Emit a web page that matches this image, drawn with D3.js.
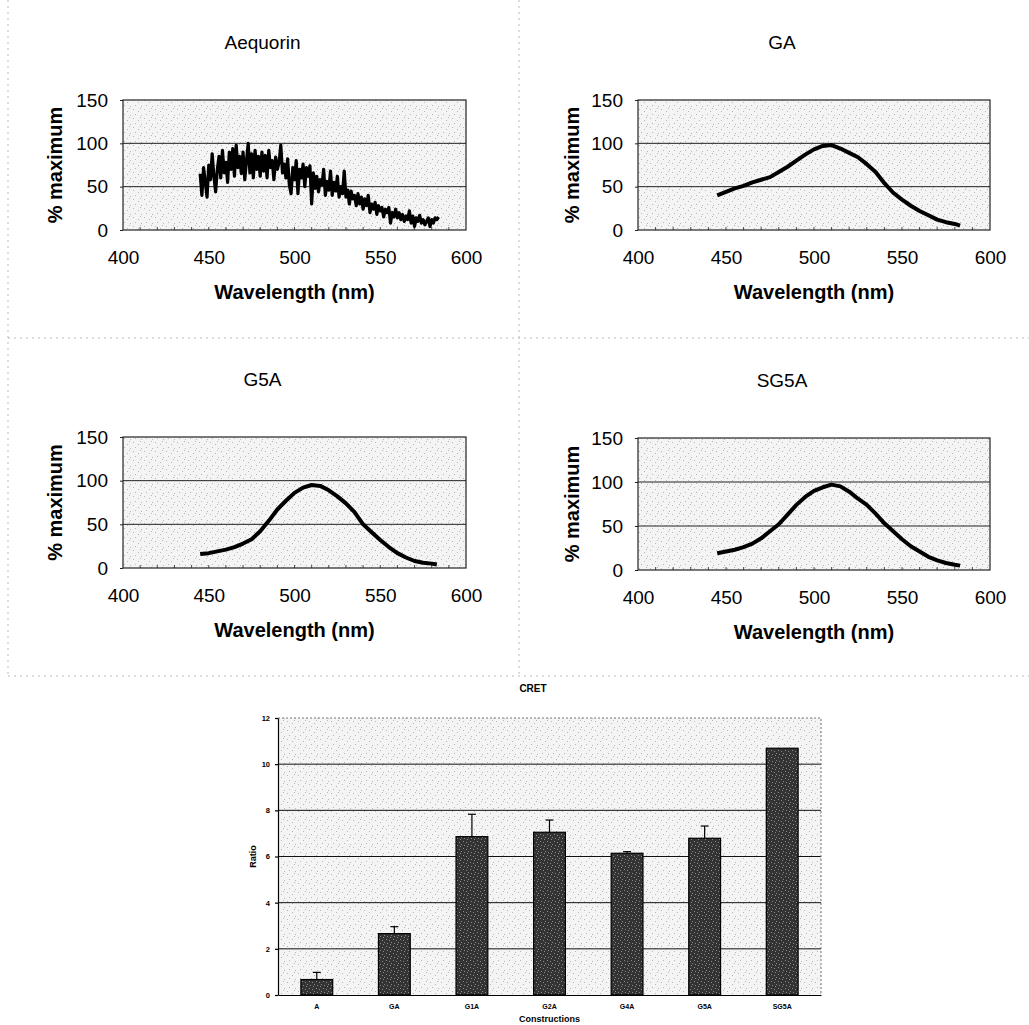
<!DOCTYPE html>
<html><head><meta charset="utf-8">
<script src="https://cdn.jsdelivr.net/npm/d3@7"></script>
<style>body{margin:0;background:#fff}svg{display:block;font-family:"Liberation Sans",Arial,sans-serif}</style>
</head><body>
<script>
// ---------- DATA ----------
const spectrumTitles = ["Aequorin", "GA", "G5A", "SG5A"];
const xTicks = [400, 450, 500, 550, 600];
const yTicks = [0, 50, 100, 150];

// Aequorin (noisy), 1 nm steps from 445 nm
const aequorinStart = 445;
const aequorinValues = [65,40,72,55,38,75,58,88,62,44,70,85,60,92,66,78,55,90,70,94,62,98,72,85,65,90,58,80,100,66,
  88,60,92,70,85,62,90,68,86,60,92,72,80,58,84,70,78,98,66,76,60,82,52,42,72,58,80,42,70,60,
  76,50,72,62,74,30,66,48,62,44,58,52,70,40,56,46,68,40,55,45,62,38,50,42,68,38,46,30,45,36,
  40,28,42,30,38,24,36,28,40,20,30,24,32,18,28,22,26,15,24,20,26,8,20,15,24,14,20,12,18,10,
  16,12,22,8,16,4,14,10,17,8,12,6,10,14,4,12,8,14,12,15];

const curveWavelengths = [445,450,455,460,465,470,475,480,485,490,495,500,505,510,515,520,525,530,535,540,545,550,555,560,565,570,575,580,583];
const gaValues   = [40,44,48,51,55,58,61,67,73,80,87,93,97,98,94,89,84,76,67,54,43,35,28,22,17,12,9,7,5];
const g5aValues  = [16,17,19,21,24,28,33,42,54,67,77,86,92,95,94,89,82,74,64,50,41,32,24,17,12,8,6,5,4];
const sg5aValues = [19,21,23,26,30,36,44,52,63,74,83,90,94,97,95,89,81,74,64,53,44,35,27,21,15,11,8,6,5];

// CRET bar chart
const constructions = ["A","GA","G1A","G2A","G4A","G5A","SG5A"];
const ratioValues   = [0.67, 2.66, 6.86, 7.05, 6.14, 6.79, 10.69];
const ratioErrTops  = [0.98, 2.96, 7.83, 7.58, 6.21, 7.32, 10.69];
const ratioTicks    = [0, 2, 4, 6, 8, 10, 12];

// ---------- DRAW ----------
const W = 1029, H = 1025;
const svg = d3.select("body").append("svg").attr("width", W).attr("height", H);

// speckle patterns (texture only)
const defs = svg.append("defs");
const sp = defs.append("pattern").attr("id","speckle").attr("patternUnits","userSpaceOnUse").attr("width",11).attr("height",9);
sp.append("rect").attr("width",11).attr("height",9).attr("fill","#f4f4f4");
[[1,1],[6,3],[3,6],[9,7],[8,0]].forEach(([a,b])=>sp.append("rect").attr("x",a).attr("y",b).attr("width",1).attr("height",1).attr("fill","#b8b8b8"));
const bp = defs.append("pattern").attr("id","barspeckle").attr("patternUnits","userSpaceOnUse").attr("width",7).attr("height",7);
bp.append("rect").attr("width",7).attr("height",7).attr("fill","#333");
[[1,1],[4,2],[2,5],[6,4],[5,6]].forEach(([a,b])=>bp.append("rect").attr("x",a).attr("y",b).attr("width",1).attr("height",1).attr("fill","#8a8a8a"));

// faint scan divider lines
const div = svg.append("g").attr("stroke","#aaa").attr("stroke-width",0.8).attr("stroke-dasharray","2,4");
div.append("line").attr("x1",8).attr("x2",8).attr("y1",0).attr("y2",676);
div.append("line").attr("x1",519).attr("x2",519).attr("y1",0).attr("y2",676);
div.append("line").attr("x1",8).attr("x2",1029).attr("y1",338).attr("y2",338);
div.append("line").attr("x1",8).attr("x2",1029).attr("y1",676).attr("y2",676);

const spectra = [
  aequorinValues.map((v,i)=>({x: aequorinStart + i, y: v})),
  curveWavelengths.map((w,i)=>({x:w, y:gaValues[i]})),
  curveWavelengths.map((w,i)=>({x:w, y:g5aValues[i]})),
  curveWavelengths.map((w,i)=>({x:w, y:sg5aValues[i]}))
];
const boxes = [
  {x0:123, x1:466, y0:100, y1:230, ylab:55,  lw:3.2},
  {x0:638, x1:990, y0:100, y1:230, ylab:572, lw:4},
  {x0:123, x1:466, y0:437, y1:568, ylab:55,  lw:4},
  {x0:638, x1:990, y0:438, y1:570, ylab:572, lw:4}
];

boxes.forEach((b, k) => {
  const g = svg.append("g");
  const x = d3.scaleLinear().domain([400, 600]).range([b.x0, b.x1]);
  const y = d3.scaleLinear().domain([0, 150]).range([b.y1, b.y0]);
  g.append("rect").attr("x",b.x0).attr("y",b.y0).attr("width",b.x1-b.x0).attr("height",b.y1-b.y0)
    .attr("fill","url(#speckle)");
  g.selectAll(".grid").data([50,100]).join("line")
    .attr("x1",b.x0).attr("x2",b.x1).attr("y1",d=>y(d)).attr("y2",d=>y(d))
    .attr("stroke","#222").attr("stroke-width",1);
  g.selectAll(".mt").data(d3.range(410,600,10)).join("line")
    .attr("x1",d=>x(d)).attr("x2",d=>x(d)).attr("y1",b.y1).attr("y2",b.y1-3)
    .attr("stroke","#222").attr("stroke-width",0.8);
  g.append("rect").attr("x",b.x0).attr("y",b.y0).attr("width",b.x1-b.x0).attr("height",b.y1-b.y0)
    .attr("fill","none").attr("stroke","#222").attr("stroke-width",1.2);
  const ax = g.append("g").attr("transform",`translate(0,${b.y1})`)
    .call(d3.axisBottom(x).tickValues(xTicks).tickSize(0).tickPadding(21));
  ax.select(".domain").remove();
  ax.selectAll("text").attr("font-size",19).attr("fill","#000").attr("font-family","Liberation Sans, Arial, sans-serif");
  const ay = g.append("g").attr("transform",`translate(${b.x0},0)`)
    .call(d3.axisLeft(y).tickValues(yTicks).tickSizeInner(3).tickSizeOuter(0).tickPadding(12));
  ay.select(".domain").remove();
  ay.selectAll("line").attr("stroke","#222");
  ay.selectAll("text").attr("font-size",19).attr("fill","#000").attr("font-family","Liberation Sans, Arial, sans-serif");
  g.append("path").datum(spectra[k])
    .attr("d", d3.line().x(d=>x(d.x)).y(d=>y(d.y)))
    .attr("fill","none").attr("stroke","#000").attr("stroke-width",b.lw).attr("stroke-linejoin","round");
  const mid = (b.x0+b.x1)/2;
  g.append("text").attr("x",mid-32).attr("y",b.y0-51).attr("text-anchor","middle")
    .attr("font-size",19).text(spectrumTitles[k]);
  g.append("text").attr("x",mid).attr("y",b.y1+69).attr("text-anchor","middle")
    .attr("font-size",20).attr("font-weight","bold").text("Wavelength (nm)");
  g.append("text").attr("transform",`translate(${b.ylab + 7},${(b.y0+b.y1)/2}) rotate(-90)`)
    .attr("text-anchor","middle").attr("font-size",20).attr("font-weight","bold").text("% maximum");
});

// ---------- CRET bar chart ----------
const bc = {x0:278, x1:821, y0:718, y1:995};
const bx = d3.scaleBand().domain(constructions).range([bc.x0, bc.x1]).paddingInner(0.59).paddingOuter(0.295);
const by = d3.scaleLinear().domain([0, 12]).range([bc.y1, bc.y0]);
const gb = svg.append("g");
gb.append("rect").attr("x",bc.x0).attr("y",bc.y0).attr("width",bc.x1-bc.x0).attr("height",bc.y1-bc.y0)
  .attr("fill","url(#speckle)");
gb.selectAll(".grid").data([2,4,6,8,10]).join("line")
  .attr("x1",bc.x0).attr("x2",bc.x1).attr("y1",d=>by(d)).attr("y2",d=>by(d))
  .attr("stroke","#111").attr("stroke-width",1);
gb.append("path").attr("d",`M${bc.x0},${bc.y0}H${bc.x1}V${bc.y1}`).attr("fill","none")
  .attr("stroke","#777").attr("stroke-width",1).attr("stroke-dasharray","2,2");
gb.selectAll(".bar").data(constructions).join("rect")
  .attr("x",d=>bx(d)).attr("width",bx.bandwidth())
  .attr("y",(d,i)=>by(ratioValues[i])).attr("height",(d,i)=>by(0)-by(ratioValues[i]))
  .attr("fill","url(#barspeckle)").attr("stroke","#000").attr("stroke-width",1.2);
constructions.forEach((c,i)=>{
  if (ratioErrTops[i] <= ratioValues[i]) return;
  const cx = bx(c) + bx.bandwidth()/2;
  gb.append("line").attr("x1",cx).attr("x2",cx).attr("y1",by(ratioValues[i])).attr("y2",by(ratioErrTops[i]))
    .attr("stroke","#000").attr("stroke-width",1.2);
  gb.append("line").attr("x1",cx-4).attr("x2",cx+4).attr("y1",by(ratioErrTops[i])).attr("y2",by(ratioErrTops[i]))
    .attr("stroke","#000").attr("stroke-width",1.2);
});
const bay = gb.append("g").attr("transform",`translate(${bc.x0},0)`)
  .call(d3.axisLeft(by).tickValues(ratioTicks).tickSizeInner(3).tickSizeOuter(0).tickPadding(5));
bay.selectAll("path,line").attr("stroke","#000").attr("stroke-width",1.2);
bay.selectAll("text").attr("font-size",7.5).attr("font-weight","bold").attr("fill","#000").attr("font-family","Liberation Sans, Arial, sans-serif");
const bax = gb.append("g").attr("transform",`translate(0,${bc.y1})`)
  .call(d3.axisBottom(bx).tickSize(0).tickPadding(9));
bax.select(".domain").attr("stroke","#000").attr("stroke-width",1.2);
bax.selectAll("text").attr("font-size",7).attr("font-weight","bold").attr("fill","#000").attr("font-family","Liberation Sans, Arial, sans-serif");
gb.append("text").attr("x",533).attr("y",692).attr("text-anchor","middle")
  .attr("font-size",10).attr("font-weight","bold").text("CRET");
gb.append("text").attr("x",(bc.x0+bc.x1)/2).attr("y",1022).attr("text-anchor","middle")
  .attr("font-size",9).attr("font-weight","bold").text("Constructions");
gb.append("text").attr("transform",`translate(256,${(bc.y0+bc.y1)/2}) rotate(-90)`)
  .attr("text-anchor","middle").attr("font-size",9).attr("font-weight","bold").text("Ratio");
</script>
</body></html>
